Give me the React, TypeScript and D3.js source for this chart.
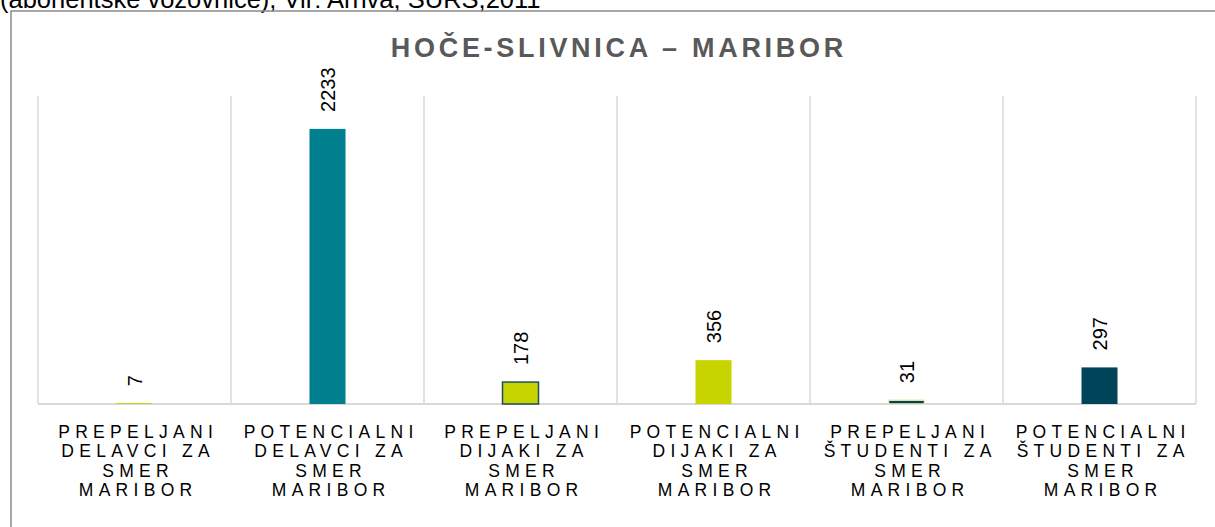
import React from "react";
import * as d3 from "d3";

const categories: string[] = [
  "PREPELJANI DELAVCI ZA SMER MARIBOR",
  "POTENCIALNI DELAVCI ZA SMER MARIBOR",
  "PREPELJANI DIJAKI ZA SMER MARIBOR",
  "POTENCIALNI DIJAKI ZA SMER MARIBOR",
  "PREPELJANI ŠTUDENTI ZA SMER MARIBOR",
  "POTENCIALNI ŠTUDENTI ZA SMER MARIBOR",
];
const values: number[] = [7, 2233, 178, 356, 31, 297];
const fills: string[] = ["#C8D400", "#007F8E", "#C8D400", "#C8D400", "#00445A", "#00445A"];
const strokes: string[] = ["none", "none", "#1F4E5F", "none", "#F0E6B4", "none"];
const yDomain: [number, number] = [0, 2500];
const title = "HOČE-SLIVNICA – MARIBOR";
const topNote = "(abonentske vozovnice), Vir: Arriva, SURS,2011";

const W = 1215;
const H = 527;
const FONT = "'Liberation Sans', Arial, Helvetica, sans-serif";
const CAT_SIZE = 17.5;
const CAT_LS = 5.3;

let ctx: CanvasRenderingContext2D | null = null;
function measure(s: string): number {
  if (!ctx) {
    const c = document.createElement("canvas");
    ctx = c.getContext("2d");
  }
  if (!ctx) return s.length * CAT_SIZE * 0.6;
  ctx.font = `${CAT_SIZE}px ${FONT}`;
  return ctx.measureText(s).width + CAT_LS * (s.length - 1);
}
function wrap(s: string, maxW: number): string[] {
  const words = s.split(" ");
  const lines: string[] = [];
  let cur = "";
  for (const w of words) {
    const t = cur ? cur + " " + w : w;
    if (cur && measure(t) > maxW) {
      lines.push(cur);
      cur = w;
    } else cur = t;
  }
  if (cur) lines.push(cur);
  return lines;
}

export default function App() {
  const x = d3.scaleBand<string>().domain(categories).range([38, 1196]).padding(0);
  const y = d3.scaleLinear().domain(yDomain).range([404, 96]);
  const bw = 36;
  const bounds = d3.range(categories.length + 1).map((i) => 38 + i * x.step());
  return (
    <svg
      width={W}
      height={H}
      style={{ position: "absolute", left: 0, top: 0, background: "#fff" }}
      fontFamily={FONT}
    >
      <rect x={0} y={0} width={W} height={H} fill="#fff" />
      <text x={0} y={8} fontSize={25.5} fill="#000">{topNote}</text>
      <path d={`M11,${H + 5} V11 H${W + 5}`} fill="none" stroke="#8a8a8a" strokeWidth={1.5} />
      <text
        x={617 + 1.85}
        y={57}
        textAnchor="middle"
        fontSize={27}
        fontWeight="bold"
        letterSpacing={3.7}
        fill="#595959"
      >
        {title}
      </text>
      {bounds.map((bx, i) => (
        <line key={i} x1={bx} x2={bx} y1={y(yDomain[1])} y2={y(0)} stroke="#d9d9d9" strokeWidth={1.5} />
      ))}
      <line x1={38} x2={1196} y1={y(0)} y2={y(0)} stroke="#d9d9d9" strokeWidth={2} />
      {categories.map((c, i) => {
        const cx = (x(c) as number) + x.bandwidth() / 2;
        const v = values[i];
        const top = y(v);
        return (
          <g key={c}>
            <rect
              x={cx - bw / 2}
              y={top}
              width={bw}
              height={Math.max(y(0) - top, 0.8)}
              fill={fills[i]}
              stroke={strokes[i]}
              strokeWidth={strokes[i] === "none" ? 0 : 1.5}
            />
            <text
              transform={`translate(${cx},${top - 17}) rotate(-90)`}
              dy="0.35em"
              fontSize={20}
              fill="#000"
            >
              {v}
            </text>
          </g>
        );
      })}
      {categories.map((c, i) => {
        const cx = (x(c) as number) + x.bandwidth() / 2;
        const lines = wrap(c, 178);
        return (
          <text
            key={c + "l"}
            fontSize={CAT_SIZE}
            letterSpacing={CAT_LS}
            textAnchor="middle"
            fill="#000"
          >
            {lines.map((ln, j) => (
              <tspan key={j} x={cx + CAT_LS / 2 + 1} y={437.5 + j * 19.6}>
                {ln}
              </tspan>
            ))}
          </text>
        );
      })}
    </svg>
  );
}
